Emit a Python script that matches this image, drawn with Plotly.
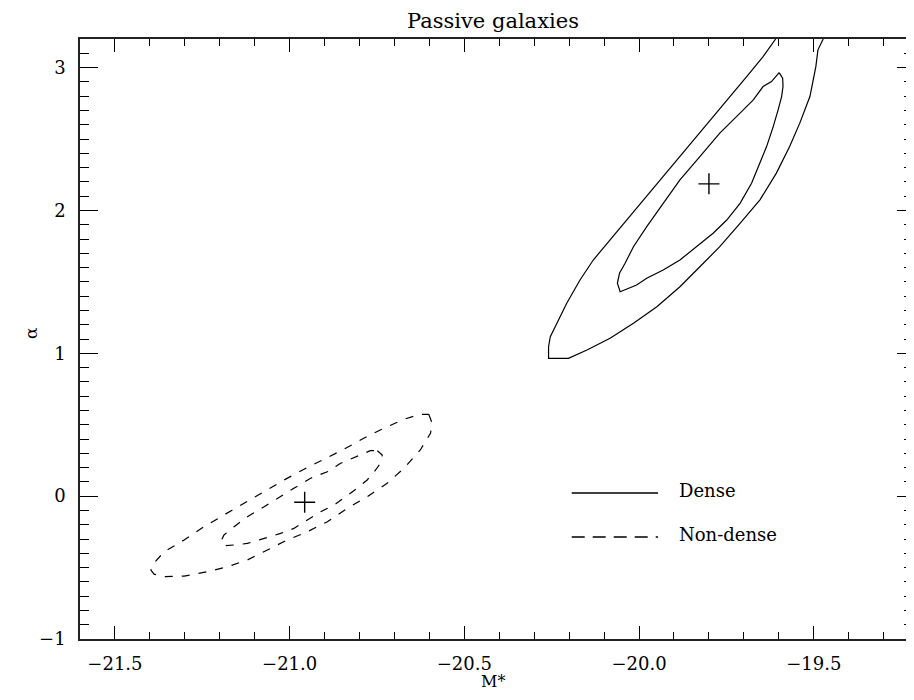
import plotly.graph_objects as go

# ---------------- data ----------------
dense_outer_x = [-19.609, -19.645, -19.692, -19.74, -19.788, -19.835, -19.883, -19.931, -19.988, -20.035,
                 -20.083, -20.131, -20.169, -20.207, -20.235, -20.254, -20.259, -20.259, -20.202, -20.149,
                 -20.083, -20.016, -19.949, -19.883, -19.826, -19.769, -19.711, -19.654, -19.607, -19.569,
                 -19.54, -19.511, -19.494, -19.488, -19.473]
dense_outer_y = [3.2, 3.077, 2.937, 2.797, 2.657, 2.517, 2.377, 2.237, 2.074, 1.933,
                 1.793, 1.653, 1.513, 1.35, 1.21, 1.116, 1.046, 0.965, 0.965, 1.023,
                 1.105, 1.21, 1.326, 1.466, 1.606, 1.746, 1.91, 2.074, 2.261, 2.447,
                 2.611, 2.797, 3.007, 3.124, 3.2]

dense_inner_x = [-19.599, -19.589, -19.588, -19.592, -19.602, -19.616, -19.635, -19.654, -19.678, -19.711,
                 -19.749, -19.788, -19.835, -19.883, -19.931, -19.978, -20.007, -20.054, -20.062, -20.056,
                 -20.04, -20.016, -19.978, -19.931, -19.883, -19.826, -19.769, -19.711, -19.673, -19.645,
                 -19.621, -19.599]
dense_inner_y = [2.965, 2.926, 2.867, 2.797, 2.704, 2.587, 2.447, 2.331, 2.19, 2.05,
                 1.933, 1.84, 1.746, 1.653, 1.583, 1.525, 1.478, 1.431, 1.49, 1.56,
                 1.63, 1.746, 1.887, 2.05, 2.214, 2.377, 2.541, 2.681, 2.774, 2.867,
                 2.902, 2.965]

nondense_outer_x = [-20.602, -20.592, -20.597, -20.626, -20.673, -20.721, -20.778, -20.835, -20.892, -20.949,
                    -21.007, -21.064, -21.121, -21.178, -21.235, -21.302, -21.359, -21.388, -21.397, -21.389,
                    -21.359, -21.302, -21.245, -21.188, -21.131, -21.073, -21.016, -20.959, -20.902, -20.845,
                    -20.788, -20.731, -20.673, -20.626, -20.602]
nondense_outer_y = [0.573, 0.51, 0.44, 0.323, 0.195, 0.09, -0.004, -0.085, -0.179, -0.249,
                    -0.307, -0.377, -0.447, -0.494, -0.529, -0.56, -0.564, -0.546, -0.518, -0.471,
                    -0.389, -0.307, -0.214, -0.132, -0.05, 0.031, 0.113, 0.188, 0.258, 0.328,
                    0.405, 0.475, 0.538, 0.573, 0.573]

nondense_inner_x = [-20.749, -20.735, -20.74, -20.754, -20.778, -20.807, -20.84, -20.873, -20.911, -20.949,
                    -20.988, -21.026, -21.073, -21.121, -21.159, -21.188, -21.195, -21.188, -21.159, -21.121,
                    -21.073, -21.035, -20.988, -20.94, -20.892, -20.854, -20.807, -20.769, -20.749]
nondense_inner_y = [0.318, 0.288, 0.23, 0.183, 0.113, 0.055, -0.004, -0.062, -0.109, -0.167,
                    -0.226, -0.261, -0.295, -0.331, -0.342, -0.347, -0.307, -0.272, -0.214, -0.144,
                    -0.074, -0.015, 0.055, 0.125, 0.171, 0.23, 0.276, 0.318, 0.318]

best_fit_x = [-19.80, -20.957]
best_fit_y = [2.186, -0.043]

x_range = [-21.6, -19.236]
y_range = [-1.0, 3.2]
x_tick_vals = [-21.5, -21.0, -20.5, -20.0, -19.5]
x_tick_text = ["\u221221.5", "\u221221.0", "\u221220.5", "\u221220.0", "\u221219.5"]
y_tick_vals = [-1, 0, 1, 2, 3]
y_tick_text = ["\u22121", "0", "1", "2", "3"]

title_text = "Passive galaxies"
x_title = "M*"
y_title = "\u03b1"
legend_labels = ["Dense", "Non-dense"]

# ---------------- figure ----------------
FONT = "DejaVu Serif"
fig = go.Figure()

def contour(x, y, dash):
    fig.add_trace(go.Scatter(x=x, y=y, mode="lines",
                             line=dict(color="black", width=1.2, dash=dash),
                             hoverinfo="skip", showlegend=False))

contour(dense_outer_x, dense_outer_y, "solid")
contour(dense_inner_x, dense_inner_y, "solid")
contour(nondense_outer_x, nondense_outer_y, "8px,9px")
contour(nondense_inner_x, nondense_inner_y, "8px,9px")

fig.add_trace(go.Scatter(x=best_fit_x, y=best_fit_y, mode="markers",
                         marker=dict(symbol="cross-thin", size=15,
                                     line=dict(color="black", width=1.4)),
                         hoverinfo="skip", showlegend=False))
# invisible copy on the right-hand axis so that its ticks are drawn
fig.add_trace(go.Scatter(x=best_fit_x, y=best_fit_y, mode="markers", yaxis="y2",
                         marker=dict(opacity=0), hoverinfo="skip", showlegend=False))

axis_font = dict(family=FONT, size=18, color="black")

# the page body adds an 8px margin, so the figure is 16px smaller than the window
fig.update_layout(
    width=898, height=684,
    margin=dict(l=72, r=0, t=31, b=53),
    paper_bgcolor="white", plot_bgcolor="white",
    font=dict(family=FONT, color="black"),
    xaxis=dict(range=x_range, tickvals=x_tick_vals, ticktext=x_tick_text,
               ticks="inside", ticklen=13, tickwidth=1.2, tickcolor="black",
               minor=dict(dtick=0.1, tick0=-21.5, ticks="inside", ticklen=7, tickwidth=1, tickcolor="black"),
               showline=True, linecolor="#222", linewidth=1.6, mirror="ticks",
               showgrid=False, zeroline=False, tickfont=axis_font, ticklabelstandoff=8),
    yaxis=dict(range=y_range, tickvals=y_tick_vals, ticktext=y_tick_text,
               ticks="inside", ticklen=18, tickwidth=1.2, tickcolor="black",
               minor=dict(dtick=0.1, tick0=0, ticks="inside", ticklen=9, tickwidth=1, tickcolor="black"),
               showline=True, linecolor="#222", linewidth=1.6, mirror=False,
               showgrid=False, zeroline=False, tickfont=axis_font, ticklabelstandoff=9),
    yaxis2=dict(range=y_range, overlaying="y", side="right", anchor="x",
                tickvals=y_tick_vals, showticklabels=False,
                ticks="inside", ticklen=9, tickwidth=1.2, tickcolor="black",
                minor=dict(dtick=0.1, tick0=0, ticks="inside", ticklen=2, tickwidth=1, tickcolor="black"),
                showline=False, showgrid=False, zeroline=False),
)

# title and axis titles
fig.add_annotation(text=title_text, xref="paper", yref="paper", x=0.5, y=1,
                   xanchor="center", yanchor="bottom", yshift=4, showarrow=False,
                   font=dict(family=FONT, size=21, color="black"))
fig.add_annotation(text=x_title, xref="paper", yref="paper", x=0.5, y=0,
                   xanchor="center", yanchor="bottom", yshift=-53, showarrow=False,
                   borderpad=0, font=dict(family=FONT, size=16, color="black"))
fig.add_annotation(text=y_title, xref="paper", yref="paper", x=0, y=0.5,
                   xanchor="center", yanchor="middle", xshift=-49, yshift=6, textangle=-90,
                   showarrow=False, font=dict(family=FONT, size=17, color="black"))

# legend (key lines in paper coordinates)
key_x0, key_x1, text_x = 0.5953, 0.6998, 0.7224
key_y = [0.2433, 0.17]
key_dash = ["solid", "13px,8px"]
for lab, ky, kd in zip(legend_labels, key_y, key_dash):
    fig.add_shape(type="line", xref="paper", yref="paper", x0=key_x0, x1=key_x1, y0=ky, y1=ky,
                  line=dict(color="black", width=1.3, dash=kd))
    fig.add_annotation(text=lab, xref="paper", yref="paper", x=text_x, y=ky + 0.004,
                       xanchor="left", yanchor="middle", showarrow=False,
                       font=dict(family=FONT, size=18, color="black"))

fig.write_html("out.html")
